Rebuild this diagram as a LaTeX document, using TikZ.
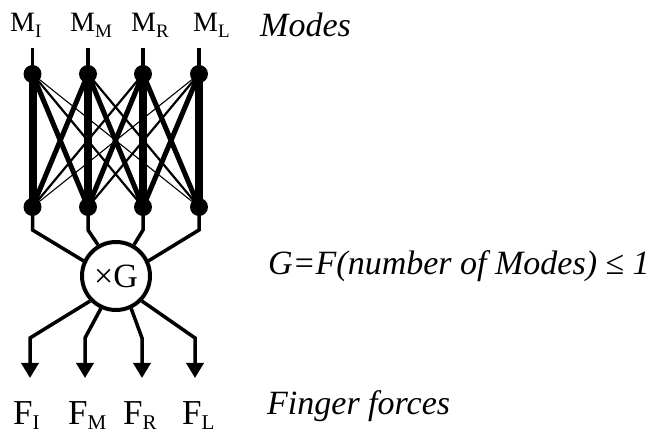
\documentclass[tikz,border=0pt]{standalone}
\usepackage{fontspec}
\setmainfont{Liberation Serif}
\usetikzlibrary{arrows.meta}
\newcommand\msub[1]{\raisebox{-6pt}{\fontsize{19pt}{19pt}\selectfont #1}}
\newcommand\fsub[1]{\raisebox{-5pt}{\fontsize{21pt}{21pt}\selectfont #1}}
\begin{document}
\begin{tikzpicture}[x=1pt,y=-1pt,
  dotnode/.style={circle, fill=black, inner sep=0pt, minimum size=18pt},
  gain/.style={circle, draw, line width=4pt, inner sep=0pt, minimum size=68pt, font=\fontsize{34pt}{34pt}\selectfont},
  wire/.style={line width=3.5pt},
  wzero/.style={line width=8pt},
  wone/.style={line width=5pt},
  wtwo/.style={line width=2.2pt},
  wthree/.style={line width=1.1pt},
  arr/.style={wire, -{Triangle[length=15pt,width=17pt]}},
  mlab/.style={anchor=base west, inner sep=0pt, font=\fontsize{28pt}{28pt}\selectfont},
  flab/.style={anchor=base west, inner sep=0pt, font=\fontsize{35pt}{35pt}\selectfont},
  itlab/.style={anchor=base west, inner sep=0pt, font=\fontsize{34pt}{34pt}\selectfont\itshape}
]
\useasboundingbox (0,0) rectangle (662,435);

% labels
\node[mlab] (mI) at (10,32) {M\msub{I}};
\node[mlab] (mM) at (70,32) {M\msub{M}};
\node[mlab] (mR) at (131,32) {M\msub{R}};
\node[mlab] (mL) at (193,32) {M\msub{L}};
\node[flab] (fI) at (13,425) {F\fsub{I}};
\node[flab] (fM) at (68,425) {F\fsub{M}};
\node[flab] (fR) at (123,425) {F\fsub{R}};
\node[flab] (fL) at (182,425) {F\fsub{L}};
\node[itlab] (modes) at (260,37) {Modes};
\node[itlab] (gform) at (268,275) {G=F(number of Modes) {\upshape≤} 1};
\node[itlab] (ff) at (267,415) {Finger forces};

% coordinates
\foreach \i/\x in {1/32.5,2/88,3/143,4/199}{
  \coordinate (s\i) at (\x,48);
  \coordinate (c\i) at (\x,230);
}
\foreach \i/\x in {1/30,2/85,3/142,4/195}{
  \coordinate (d\i) at (\x,338);
  \coordinate (e\i) at (\x,378);
}
\node[gain] (g) at (116,276) {×G};

% crossing lines
\path (32.5,74) coordinate (t1) (88,74) coordinate (t2) (143,74) coordinate (t3) (199,74) coordinate (t4);
\path (32.5,207) coordinate (b1) (88,207) coordinate (b2) (143,207) coordinate (b3) (199,207) coordinate (b4);
\foreach \a/\b in {1/4,4/1} \draw[wthree] (t\a) -- (b\b);
\foreach \a/\b in {1/3,3/1,2/4,4/2} \draw[wtwo] (t\a) -- (b\b);
\foreach \a/\b in {1/2,2/1,2/3,3/2,3/4,4/3} \draw[wone] (t\a) -- (b\b);
\foreach \a in {1,2,3,4} \draw[wzero] (t\a) -- (b\a);

% stubs
\foreach \a in {1,2,3,4} \draw[wire] (s\a) -- (t\a);
\draw[wire] (b1) -- (c1) -- (g.155);
\draw[wire] (b2) -- (c2) -- (g.120);
\draw[wire] (b3) -- (c3) -- (g.60);
\draw[wire] (b4) -- (c4) -- (g.25);

% dot nodes on top
\foreach \a in {1,2,3,4}{
  \node[dotnode] (T\a) at (t\a) {};
  \node[dotnode] (B\a) at (b\a) {};
}

% outputs
\draw[arr] (g.224) -- (d1) -- (e1);
\draw[arr] (g.245) -- (d2) -- (e2);
\draw[arr] (g.295) -- (d3) -- (e3);
\draw[arr] (g.316) -- (d4) -- (e4);
\end{tikzpicture}
\end{document}
